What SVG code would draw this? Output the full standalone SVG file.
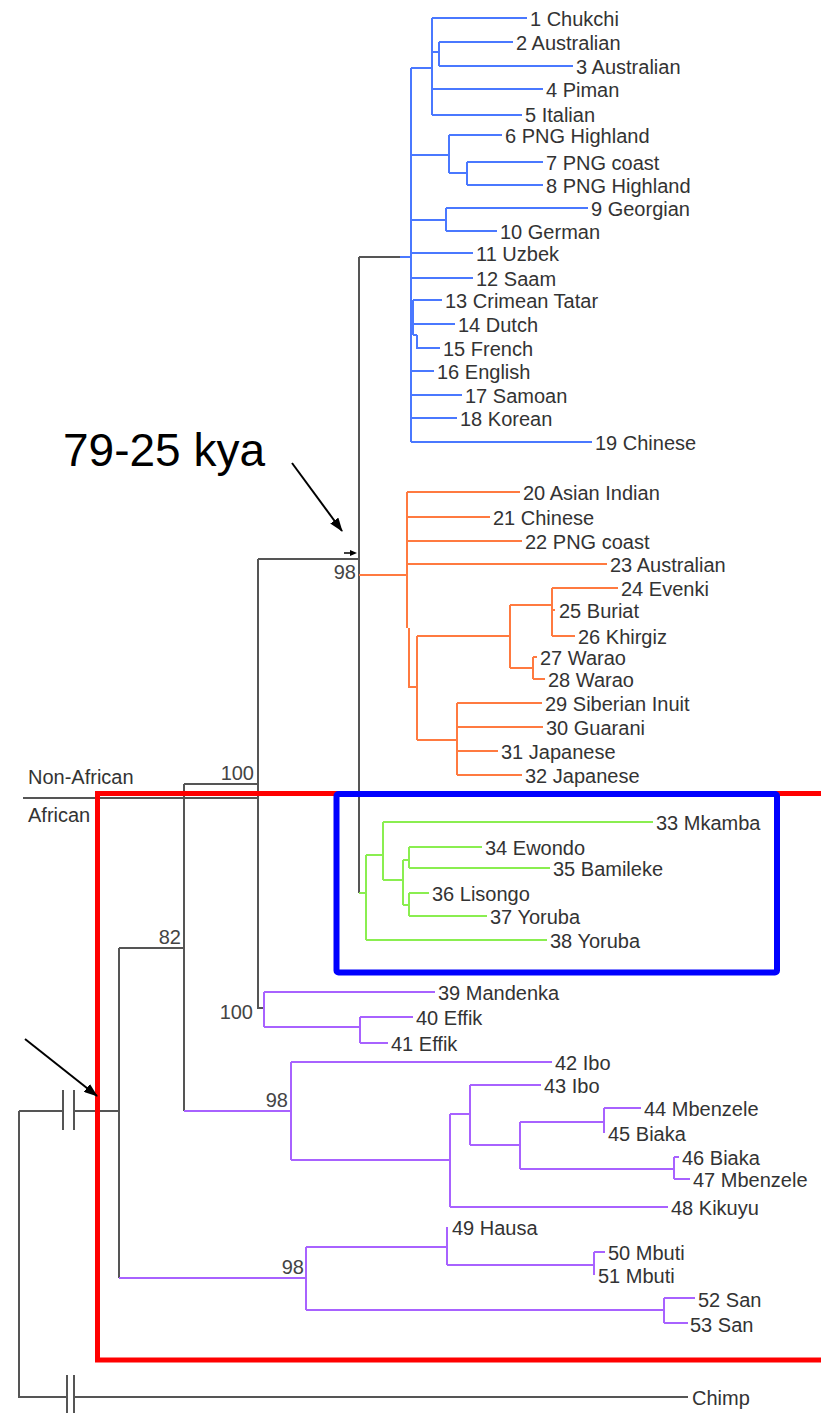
<svg xmlns="http://www.w3.org/2000/svg" width="821" height="1413" viewBox="0 0 821 1413">
<style>
.g{fill:none;stroke:#555;stroke-width:2}
.b{fill:none;stroke:#4a78ff;stroke-width:2}
.o{fill:none;stroke:#ff7a40;stroke-width:2}
.gr{fill:none;stroke:#8aee50;stroke-width:2}
.p{fill:none;stroke:#a862ff;stroke-width:2}
text{font-family:"Liberation Sans",Arial,sans-serif;font-size:20px;fill:#333}
.bs{fill:#444}
.big{font-size:46px;fill:#000}
.arr{fill:none;stroke:#000;stroke-width:2}
</style>
<defs>
<marker id="ah" markerUnits="userSpaceOnUse" markerWidth="14" markerHeight="10" refX="13" refY="5" orient="auto">
<path d="M0,0 L14,5 L0,10 z" fill="#000"/>
</marker>
</defs>
<rect width="821" height="1413" fill="#fff"/>
<g id="connectors">
<path class="g" d="M359,257 H400 M359,257 V893 M258,559 H359 M258,559 V1008 H264 M184,784 H258 M184,784 V1111 M119,948 H184 M119,948 V1278 M19,1111 H63 M74,1111 H119 M19,1111 V1397 H67 M74,1397 H688 M63,1090 V1130 M74,1090 V1130 M67,1375 V1413 M74,1375 V1413"/>
<path class="g" stroke-width="1.5" d="M23,798 H258"/>
<path class="b" d="M400,257 H411 M411,68 V442 M411,68 H432 M432,18 V115 M432,18 H527 M432,52 H439 M439,42 V66 M439,42 H513 M439,66 H573 M432,89 H543 M432,115 H522 M411,155 H449 M449,135 V173 M449,135 H502 M449,173 H467 M467,162 V185 M467,162 H543 M467,185 H543 M411,220 H446 M446,208 V231 M446,208 H588 M446,231 H497 M411,253 H473 M411,278 H473 M413,300 V335 M413,300 H442 M413,324 H455 M413,335 H417 M417,335 V348 H440 M411,371 H434 M411,395 H462 M411,418 H457 M411,442 H592"/>
<path class="o" d="M359,575 H407 M407,492 V628 M409,628 V687 H417 M417,636 V740 M407,492 H520 M407,517 H490 M407,541 H522 M407,564 H607 M417,636 H510 M510,605 V668 M510,605 H552 M552,588 V636 M552,588 H618 M552,610 H555 M552,636 H575 M510,668 H533 M533,657 V679 M533,657 H537 M533,679 H545 M417,740 H457 M457,703 V775 M457,703 H542 M457,727 H543 M457,751 H498 M457,775 H522"/>
<path class="gr" d="M359,893 H366 M366,855 V940 M366,855 H383 M383,822 V880 M383,822 H653 M383,880 H403 M403,860 V905 M403,860 H409 M409,847 V868 M409,847 H482 M409,868 H550 M403,905 H409 M409,893 V916 M409,893 H429 M409,916 H487 M366,940 H547"/>
<path class="p" d="M264,992 V1027 M264,992 H435 M264,1027 H360 M360,1017 V1043 M360,1017 H413 M360,1043 H388 M184,1111 H291 M291,1062 V1160 M291,1062 H552 M291,1160 H450 M450,1114 V1207 M450,1114 H470 M470,1085 V1145 M470,1085 H541 M470,1145 H520 M520,1122 V1169 M520,1122 H604 M604,1108 V1133 M604,1108 H641 M520,1169 H674 M674,1157 V1179 M674,1157 H679 M674,1179 H690 M450,1207 H668 M119,1278 H306 M306,1247 V1310 M306,1247 H447 M447,1227 V1265 M447,1265 H594 M594,1252 V1275 M594,1252 H605 M306,1310 H664 M664,1298 V1323 M664,1298 H695 M664,1323 H688"/>
</g>
<g id="boxes">
<path d="M821,793.5 H97.5 V1360 H821" fill="none" stroke="#ff0000" stroke-width="5"/>
<rect x="336.5" y="794" width="440.5" height="178.5" rx="2" fill="none" stroke="#0000ff" stroke-width="6"/>
</g>
<g id="annotations">
<text class="big" x="63" y="466">79-25 kya</text>
<path class="arr" d="M292,463 L342,531" marker-end="url(#ah)"/>
<path class="arr" d="M25,1039 L97,1096" marker-end="url(#ah)"/>
<path d="M344,553 H350" stroke="#000" stroke-width="1.5"/>
<path d="M350,550 L357,553 L350,556 z" fill="#000"/>
<text x="28" y="784">Non-African</text>
<text x="28" y="822">African</text>
</g>
<g id="bootstrap">
<text class="bs" x="254" y="780" text-anchor="end">100</text>
<text class="bs" x="356" y="579" text-anchor="end">98</text>
<text class="bs" x="181" y="944" text-anchor="end">82</text>
<text class="bs" x="253" y="1019" text-anchor="end">100</text>
<text class="bs" x="288" y="1107" text-anchor="end">98</text>
<text class="bs" x="304" y="1274" text-anchor="end">98</text>
</g>
<g id="n1"><text x="530" y="26">1 Chukchi</text></g>
<g id="n2"><text x="516" y="50">2 Australian</text></g>
<g id="n3"><text x="576" y="74">3 Australian</text></g>
<g id="n4"><text x="546" y="97">4 Piman</text></g>
<g id="n5"><text x="525" y="122">5 Italian</text></g>
<g id="n6"><text x="505" y="143">6 PNG Highland</text></g>
<g id="n7"><text x="546" y="170">7 PNG coast</text></g>
<g id="n8"><text x="546" y="193">8 PNG Highland</text></g>
<g id="n9"><text x="591" y="216">9 Georgian</text></g>
<g id="n10"><text x="500" y="239">10 German</text></g>
<g id="n11"><text x="476" y="261">11 Uzbek</text></g>
<g id="n12"><text x="476" y="286">12 Saam</text></g>
<g id="n13"><text x="445" y="308">13 Crimean Tatar</text></g>
<g id="n14"><text x="458" y="332">14 Dutch</text></g>
<g id="n15"><text x="443" y="356">15 French</text></g>
<g id="n16"><text x="437" y="379">16 English</text></g>
<g id="n17"><text x="465" y="403">17 Samoan</text></g>
<g id="n18"><text x="460" y="426">18 Korean</text></g>
<g id="n19"><text x="595" y="450">19 Chinese</text></g>
<g id="n20"><text x="523" y="500">20 Asian Indian</text></g>
<g id="n21"><text x="493" y="525">21 Chinese</text></g>
<g id="n22"><text x="525" y="549">22 PNG coast</text></g>
<g id="n23"><text x="610" y="572">23 Australian</text></g>
<g id="n24"><text x="621" y="596">24 Evenki</text></g>
<g id="n25"><text x="559" y="618">25 Buriat</text></g>
<g id="n26"><text x="578" y="644">26 Khirgiz</text></g>
<g id="n27"><text x="540" y="665">27 Warao</text></g>
<g id="n28"><text x="548" y="687">28 Warao</text></g>
<g id="n29"><text x="545" y="711">29 Siberian Inuit</text></g>
<g id="n30"><text x="546" y="735">30 Guarani</text></g>
<g id="n31"><text x="501" y="759">31 Japanese</text></g>
<g id="n32"><text x="525" y="783">32 Japanese</text></g>
<g id="n33"><text x="656" y="830">33 Mkamba</text></g>
<g id="n34"><text x="485" y="855">34 Ewondo</text></g>
<g id="n35"><text x="553" y="876">35 Bamileke</text></g>
<g id="n36"><text x="432" y="901">36 Lisongo</text></g>
<g id="n37"><text x="490" y="924">37 Yoruba</text></g>
<g id="n38"><text x="550" y="948">38 Yoruba</text></g>
<g id="n39"><text x="438" y="1000">39 Mandenka</text></g>
<g id="n40"><text x="416" y="1025">40 Effik</text></g>
<g id="n41"><text x="391" y="1051">41 Effik</text></g>
<g id="n42"><text x="555" y="1070">42 Ibo</text></g>
<g id="n43"><text x="544" y="1093">43 Ibo</text></g>
<g id="n44"><text x="644" y="1116">44 Mbenzele</text></g>
<g id="n45"><text x="608" y="1141">45 Biaka</text></g>
<g id="n46"><text x="682" y="1165">46 Biaka</text></g>
<g id="n47"><text x="693" y="1187">47 Mbenzele</text></g>
<g id="n48"><text x="671" y="1215">48 Kikuyu</text></g>
<g id="n49"><text x="452" y="1235">49 Hausa</text></g>
<g id="n50"><text x="608" y="1260">50 Mbuti</text></g>
<g id="n51"><text x="598" y="1283">51 Mbuti</text></g>
<g id="n52"><text x="698" y="1307">52 San</text></g>
<g id="n53"><text x="690" y="1332">53 San</text></g>
<g id="chimp"><text x="692" y="1405">Chimp</text></g>
</svg>
